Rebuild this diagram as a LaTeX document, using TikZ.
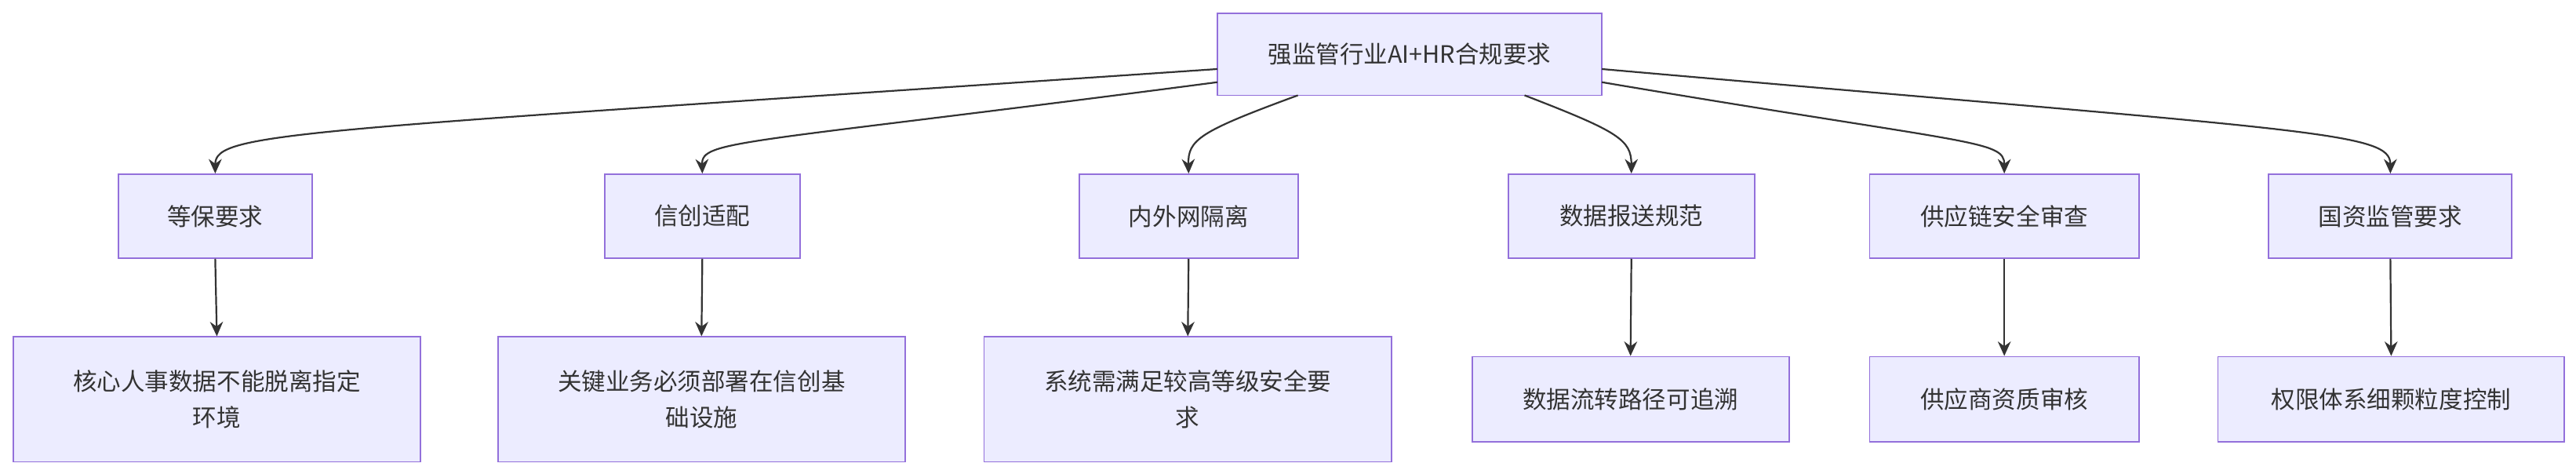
\documentclass[tikz,border=0pt]{standalone}
\usepackage{fontspec}
\setmainfont{Noto Sans CJK SC}
\usetikzlibrary{arrows.meta}
\definecolor{nfill}{HTML}{ECECFF}
\definecolor{nstroke}{HTML}{9370DB}
\definecolor{eline}{HTML}{333333}
\begin{document}
\begin{tikzpicture}[x=0.02cm,y=-0.02cm,
  box/.style={draw=nstroke,fill=nfill,line width=0.5pt,align=center,font=\fontsize{8.3pt}{12.5pt}\selectfont,text=eline,inner sep=0pt},
  edge/.style={draw=eline,line width=0.6pt,-{Stealth[length=5pt,width=4.5pt]}}]
\useasboundingbox (0,0) rectangle (1568,288);
\node[box,minimum width=234*0.02cm,minimum height=50*0.02cm] (top) at (858,33) {强监管行业AI+HR合规要求};
\foreach \n/\x/\w/\t in {a/131/118/等保要求, b/427.5/119/信创适配, c/723.5/133/内外网隔离, d/993/150/数据报送规范, e/1220/164/供应链安全审查, f/1455/148/国资监管要求}{
  \node[box,minimum width=\w*0.02cm,minimum height=51*0.02cm] (\n) at (\x,131.5) {\t};
}
\node[box,minimum width=248*0.02cm,minimum height=76*0.02cm] (a2) at (132,243) {核心人事数据不能脱离指定\\环境};
\node[box,minimum width=248*0.02cm,minimum height=76*0.02cm] (b2) at (427,243) {关键业务必须部署在信创基\\础设施};
\node[box,minimum width=248*0.02cm,minimum height=76*0.02cm] (c2) at (723,243) {系统需满足较高等级安全要\\求};
\node[box,minimum width=193*0.02cm,minimum height=52*0.02cm] (d2) at (992.5,243) {数据流转路径可追溯};
\node[box,minimum width=164*0.02cm,minimum height=52*0.02cm] (e2) at (1220,243) {供应商资质审核};
\node[box,minimum width=211*0.02cm,minimum height=52*0.02cm] (f2) at (1455.5,243) {权限体系细颗粒度控制};
\coordinate (s1) at (741,42); \coordinate (s2) at (741,50);
\coordinate (s3) at (790,58); \coordinate (s4) at (928,58);
\coordinate (s5) at (975,50); \coordinate (s6) at (975,42);
\draw[edge] (s1) .. controls (180,80) and (131,80) .. (a.north);
\draw[edge] (s2) .. controls (450,88) and (427,85) .. (b.north);
\draw[edge] (s3) .. controls (730,80) and (723,85) .. (c.north);
\draw[edge] (s4) .. controls (985,80) and (993,85) .. (d.north);
\draw[edge] (s5) .. controls (1200,88) and (1220,85) .. (e.north);
\draw[edge] (s6) .. controls (1410,80) and (1455,80) .. (f.north);
\foreach \n in {a,b,c,d,e,f}{\draw[edge] (\n.south) -- (\n2.north);}
\end{tikzpicture}
\end{document}
